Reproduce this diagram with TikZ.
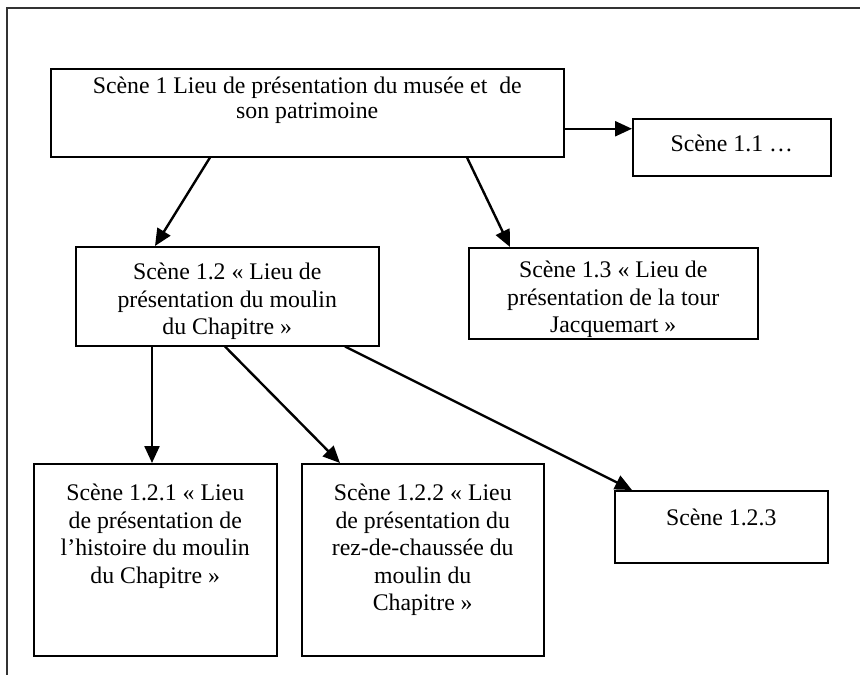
\documentclass[tikz,border=0pt]{standalone}
\usepackage{fontspec}
\setmainfont{Liberation Serif}
\usetikzlibrary{arrows.meta, positioning}

\begin{document}
\begin{tikzpicture}[
    x=1pt, y=-1pt,
    >={Triangle[length=17pt, width=15pt]},
    scene/.style={draw, line width=1.5pt, inner sep=0pt, anchor=north west},
    scenetxt/.style={anchor=north, align=center, inner sep=0pt, font=\fontsize{23.8}{27.5}\selectfont},
    link/.style={->, line width=2.4pt},
]
\useasboundingbox (0,0) rectangle (860,675);

% Frame
\draw[line width=1.5pt, black!80] (7,675) -- (7,8) -- (860,8);

% Scene 1 and 1.1
\node[scene, minimum width=513pt, minimum height=88pt] (s1) at (50,68) {};
\node[scenetxt, font=\fontsize{23.8}{25}\selectfont] (t1) at ([yshift=-9pt]s1.north) {Scène 1 Lieu de présentation du musée et \ de\\son patrimoine};
\node[scene, minimum width=198pt, minimum height=57pt] (s11) at (632,118) {};
\node[scenetxt] (t11) at ([yshift=-17pt]s11.north) {Scène 1.1 …};

% Scenes 1.2 and 1.3
\node[scene, minimum width=303pt, minimum height=99pt] (s12) at (75,246) {};
\node[scenetxt] (t12) at ([yshift=-17pt]s12.north) {Scène 1.2 « Lieu de\\présentation du moulin\\du Chapitre »};
\node[scene, minimum width=289pt, minimum height=91pt] (s13) at (468,247) {};
\node[scenetxt] (t13) at ([yshift=-14pt]s13.north) {Scène 1.3 « Lieu de\\présentation de la tour\\Jacquemart »};

% Scenes 1.2.x
\node[scene, minimum width=243pt, minimum height=192pt] (s121) at (33,463) {};
\node[scenetxt] (t121) at ([yshift=-21pt]s121.north) {Scène 1.2.1 « Lieu\\de présentation de\\l’histoire du moulin\\du Chapitre »};
\node[scene, minimum width=242pt, minimum height=192pt] (s122) at (301,463) {};
\node[scenetxt] (t122) at ([yshift=-21pt]s122.north) {Scène 1.2.2 « Lieu\\de présentation du\\rez-de-chaussée du\\moulin du\\Chapitre »};
\node[scene, minimum width=213pt, minimum height=72pt] (s123) at (614,490) {};
\node[scenetxt] (t123) at ([yshift=-19pt]s123.north) {Scène 1.2.3};

% Arrows
\draw[link] ([yshift=-16pt]s1.east) -- ([yshift=18.5pt]s11.west);
\draw[link] ([xshift=160pt]s1.south west) -- ([xshift=80pt]s12.north west);
\draw[link] ([xshift=417pt]s1.south west) -- ([xshift=42pt]s13.north west);
\draw[link] ([xshift=77pt]s12.south west) -- ([xshift=119pt]s121.north west);
\draw[link] ([xshift=150pt]s12.south west) -- ([xshift=39pt]s122.north west);
\draw[link] ([xshift=270pt]s12.south west) -- ([xshift=18pt]s123.north west);

\end{tikzpicture}
\end{document}
